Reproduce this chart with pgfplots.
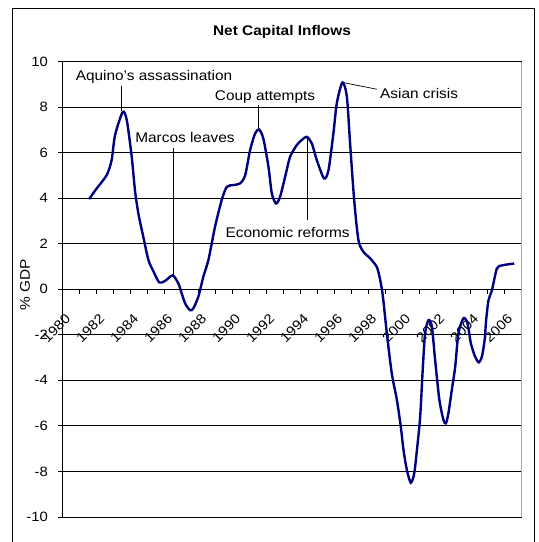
\documentclass[border=0pt]{standalone}
\usepackage{fontspec}
\setmainfont{Liberation Sans}[FakeStretch=1.1]
\usepackage{pgfplots}
\pgfplotsset{compat=1.18}

\definecolor{navyline}{RGB}{0,0,128}

\begin{document}
\begin{tikzpicture}
\useasboundingbox (0,0) rectangle (539bp,542bp);
\clip (0,0) rectangle (539bp,542bp);
% chart frame, bottom edge runs off the page
\draw[line width=1bp] (12.3bp,-10bp) -- (12.3bp,533.7bp) -- (534bp,533.7bp) -- (534bp,-10bp);
\node[font=\fontsize{14bp}{16bp}\selectfont\bfseries] at (282bp,510.5bp) {Net Capital Inflows};
\node[rotate=90, font=\fontsize{14bp}{16bp}\selectfont] at (25bp,257bp) {\% GDP};

\begin{axis}[
    at={(62.5bp,25.1bp)}, anchor=south west,
    width=459.2bp, height=455.2bp, scale only axis,
    xmin=1980, xmax=2007, ymin=-10, ymax=10,
    axis x line=middle, axis y line=left,
    x axis line style={-, line width=0.8bp},
    y axis line style={-, line width=0.8bp},
    hide obscured x ticks=false, hide obscured y ticks=false,
    xtick={1980,...,2007},
    xticklabels={1980,,1982,,1984,,1986,,1988,,1990,,1992,,1994,,1996,,1998,,2000,,2002,,2004,,2006,},
    ytick={-10,-8,...,10},
    tick align=outside, major tick length=4.5bp,
    tick style={black, line width=0.8bp},
    ymajorgrids, major grid style={black, line width=0.8bp},
    /pgf/number format/assume math mode=true,
    tick label style={font=\fontsize{13.5bp}{15bp}\selectfont},
    xticklabel style={xshift=2bp, yshift=-19bp, rotate=45, anchor=north east, inner sep=0pt},
    yticklabel style={anchor=east, inner sep=0pt, xshift=-10bp},
    clip=false,
]
\draw[gray!70, line width=0.8bp] (axis cs:2007,-10) -- (axis cs:2007,10);

\addplot[navyline, line width=2.4bp, smooth, tension=0.45] coordinates {
(1981.56,3.96) (1982.01,4.43) (1982.60,5.02) (1982.89,5.68) (1983.09,6.77)
(1983.54,7.79) (1983.78,7.43) (1984.07,5.82) (1984.26,4.36) (1984.46,3.33)
(1984.75,2.31) (1985.05,1.29) (1985.34,0.80) (1985.69,0.30) (1986.03,0.37)
(1986.48,0.61) (1986.81,0.26) (1987.01,-0.18) (1987.21,-0.62) (1987.50,-0.92)
(1987.69,-0.84) (1987.99,-0.32) (1988.28,0.55) (1988.58,1.29) (1988.97,2.75)
(1989.36,3.92) (1989.66,4.50) (1990.05,4.58) (1990.44,4.65) (1990.74,5.01)
(1991.03,6.11) (1991.32,6.84) (1991.56,7.02) (1991.81,6.62) (1992.11,5.38)
(1992.31,4.20) (1992.56,3.77) (1992.79,4.06) (1993.09,4.94) (1993.38,5.82)
(1993.78,6.34) (1994.07,6.56) (1994.36,6.70) (1994.66,6.41) (1994.95,5.68)
(1995.38,4.87) (1995.64,5.24) (1995.93,6.86) (1996.13,8.18) (1996.46,9.09)
(1996.72,8.46) (1996.91,6.41) (1997.15,3.92) (1997.40,2.16) (1997.69,1.65)
(1998.09,1.36) (1998.48,0.98) (1998.68,0.41) (1998.84,-0.32) (1999.07,-1.93)
(1999.36,-3.69) (1999.66,-4.86) (1999.89,-6.03) (2000.05,-7.06) (2000.25,-7.94)
(2000.48,-8.50) (2000.68,-8.09) (2000.84,-7.06) (2001.03,-5.60) (2001.19,-3.40)
(2001.32,-1.93) (2001.52,-1.35) (2001.72,-1.64) (2001.91,-3.11) (2002.16,-4.86)
(2002.40,-5.74) (2002.54,-5.89) (2002.69,-5.45) (2002.89,-4.42) (2003.09,-3.40)
(2003.28,-1.93) (2003.58,-1.27) (2003.81,-1.49) (2004.01,-2.37) (2004.26,-2.96)
(2004.48,-3.21) (2004.66,-2.96) (2004.82,-2.23) (2004.91,-1.35) (2005.05,-0.47)
(2005.25,-0.04) (2005.54,0.91) (2005.84,1.05) (2006.56,1.13)
};

% event annotations
\draw[line width=0.7bp] (axis cs:1983.45,8.95) -- (axis cs:1983.45,7.85);
\draw[line width=0.7bp] (axis cs:1986.52,6.2) -- (axis cs:1986.52,0.65);
\draw[line width=0.7bp] (axis cs:1991.52,8.1) -- (axis cs:1991.52,7.05);
\draw[line width=0.7bp] (axis cs:1994.42,6.7) -- (axis cs:1994.42,3.05);
\draw[line width=0.7bp] (axis cs:1996.46,9.09) -- (axis cs:1998.48,8.79);
\node[anchor=base, font=\fontsize{14bp}{16bp}\selectfont] at (axis cs:1985.38,9.17) {Aquino's assassination};
\node[anchor=base, font=\fontsize{14bp}{16bp}\selectfont] at (axis cs:1987.2,6.44) {Marcos leaves};
\node[anchor=base, font=\fontsize{14bp}{16bp}\selectfont] at (axis cs:1991.91,8.29) {Coup attempts};
\node[anchor=base, font=\fontsize{14bp}{16bp}\selectfont] at (axis cs:2000.97,8.39) {Asian crisis};
\node[anchor=base, font=\fontsize{14bp}{16bp}\selectfont] at (axis cs:1993.24,2.28) {Economic reforms};
\end{axis}
\end{tikzpicture}
\end{document}
